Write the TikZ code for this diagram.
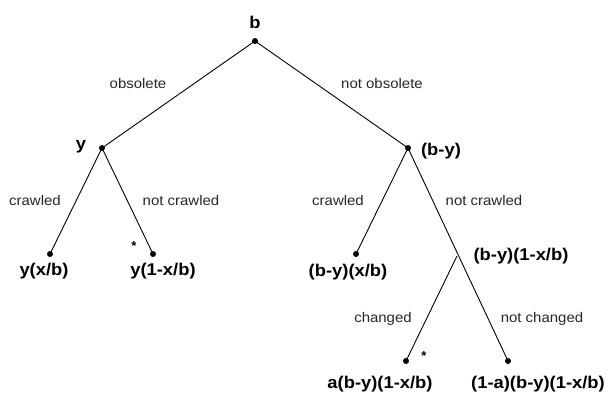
\documentclass[tikz,border=0pt]{standalone}
\usepackage{fontspec}
\usepackage{graphicx}
\setmainfont{Liberation Sans}
\newcommand{\lbl}[1]{\scalebox{1.08}[1]{#1}}
\newcommand{\elbl}[1]{\scalebox{1.07}[1]{#1}}
\tikzset{
  pt/.style={circle,fill=black,inner sep=0pt,minimum size=6pt},
  val/.style={font=\fontsize{17}{19}\selectfont\bfseries,inner sep=0pt},
  elab/.style={font=\fontsize{14}{16}\selectfont,text=black!85,inner sep=0pt},
  star/.style={font=\fontsize{13}{15}\selectfont\bfseries,inner sep=0pt},
  edge/.style={line width=0.9pt,black}
}
\begin{document}
\begin{tikzpicture}[x=1pt,y=-1pt]
\useasboundingbox (0,0) rectangle (608,406);
% dots
\node[pt] (b) at (255,41) {};
\node[pt] (y) at (102,148) {};
\node[pt] (by) at (408,148) {};
\node[pt] (l1) at (50,254) {};
\node[pt] (l2) at (153,254) {};
\node[pt] (l3) at (356,254) {};
\coordinate (br) at (457,256);
\node[pt] (l4) at (406,361) {};
\node[pt] (l5) at (508,361) {};
% edges
\draw[edge] (b.center) -- (y.center);
\draw[edge] (b.center) -- (by.center);
\draw[edge] (y.center) -- (l1.center);
\draw[edge] (y.center) -- (l2.center);
\draw[edge] (by.center) -- (l3.center);
\draw[edge] (by.center) -- (l5.center);
\draw[edge] (br) -- (l4.center);
% values
\node[val] (tb) at (255,22) {\lbl{b}};
\node[val] (ty) at (81,147) {\lbl{y}};
\node[val] (tby) at (441,151) {\lbl{(b-y)}};
\node[val] (t1) at (44,271) {\lbl{y(x/b)}};
\node[val] (t2) at (163,271) {\lbl{y(1-x/b)}};
\node[val] (t3) at (348,272) {\lbl{(b-y)(x/b)}};
\node[val] (t4) at (521,256) {\lbl{(b-y)(1-x/b)}};
\node[val] (t5) at (380,384) {\lbl{a(b-y)(1-x/b)}};
\node[val] (t6) at (538,384) {\lbl{(1-a)(b-y)(1-x/b)}};
% edge labels
\node[elab] (e1) at (138,83) {\elbl{obsolete}};
\node[elab] (e2) at (382,83) {\elbl{not obsolete}};
\node[elab] (e3) at (35,200) {\elbl{crawled}};
\node[elab] (e4) at (181,200) {\elbl{not crawled}};
\node[elab] (e5) at (338,200) {\elbl{crawled}};
\node[elab] (e6) at (484,200) {\elbl{not crawled}};
\node[elab] (e7) at (383,319) {\elbl{changed}};
\node[elab] (e8) at (542,319) {\elbl{not changed}};
% asterisks
\node[star] (s1) at (134,246) {*};
\node[star] (s2) at (424,356) {*};
\end{tikzpicture}
\end{document}
